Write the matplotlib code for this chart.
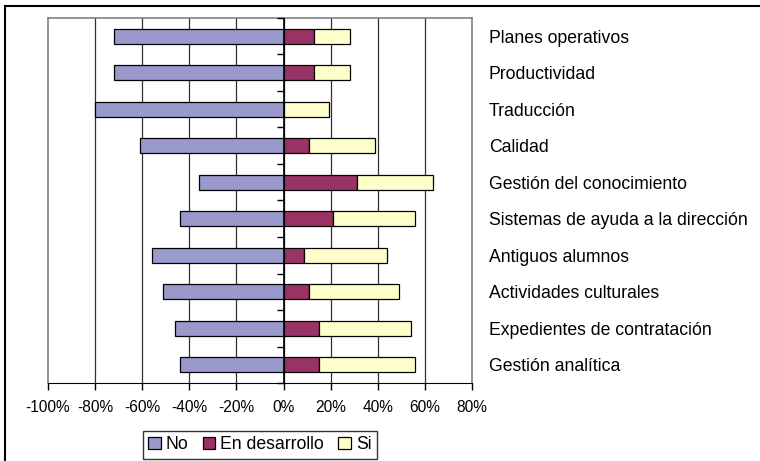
import matplotlib
matplotlib.use('Agg')
import matplotlib.pyplot as plt
import numpy as np
from matplotlib.patches import Rectangle

plt.rcParams['font.family'] = ['Liberation Sans', 'DejaVu Sans']

# data (percent)
categories = ['Planes operativos', 'Productividad', 'Traducción', 'Calidad',
              'Gestión del conocimiento', 'Sistemas de ayuda a la dirección',
              'Antiguos alumnos', 'Actividades culturales',
              'Expedientes de contratación', 'Gestión analítica']
no_vals = [-72, -72, -80, -61, -36, -44, -56, -51, -46, -44]
desarrollo_vals = [13, 13, 0, 11, 31, 21, 8.5, 11, 15, 15]
si_vals = [15, 15, 19.5, 28, 32.5, 35, 35.5, 38, 39, 41]
xticks = [-100, -80, -60, -40, -20, 0, 20, 40, 60, 80]

colors = ['#9999CC', '#993366', '#FFFFCC']

fig = plt.figure(figsize=(7.6, 4.61), dpi=100)
ax = fig.add_axes([48/760, 1-383/461, 424/760, 365/461])

y = np.arange(len(categories))
h = 0.4
ax.barh(y, no_vals, height=h, color=colors[0], edgecolor='black', lw=0.9, label='No', zorder=3)
ax.barh(y, desarrollo_vals, height=h, color=colors[1], edgecolor='black', lw=0.9,
        label='En desarrollo', zorder=3)
ax.barh(y, si_vals, left=desarrollo_vals, height=h, color=colors[2], edgecolor='black',
        lw=0.9, label='Si', zorder=3)

ax.set_xlim(-100, 80)
ax.set_ylim(len(categories) - 0.5, -0.5)
ax.set_xticks(xticks)
ax.set_xticklabels(['%d%%' % v for v in xticks], fontsize=11.2)
ax.tick_params(axis='x', length=5, width=1, pad=7, direction='out')
for v in xticks[1:-1]:
    ax.axvline(v, color='#303030', lw=0.9, zorder=1)
ax.axvline(0, color='black', lw=1.2, zorder=4)
# small tick marks on the value-0 axis between categories
ax.plot(np.zeros(len(categories) + 1), np.arange(len(categories) + 1) - 0.5,
        ls='none', marker=0, ms=5, mew=1, color='black', zorder=4, clip_on=False)

ax.yaxis.tick_right()
ax.set_yticks(y)
ax.set_yticklabels(categories, fontsize=12.7)
ax.tick_params(axis='y', length=0, pad=12)

for s in ['left', 'right', 'top']:
    ax.spines[s].set_color('#808080')
    ax.spines[s].set_linewidth(1.2)
ax.spines['bottom'].set_color('black')

# outer chart frame
fig.patches.append(Rectangle((5/760, -0.05), 1.0, 1 - 6/461 + 0.05,
                             transform=fig.transFigure, fill=False,
                             edgecolor='black', lw=1.5))

leg = fig.legend(loc='upper left', bbox_to_anchor=(143/760, 1 - 431/461), ncol=3,
                 fontsize=12.7, frameon=True, fancybox=False, edgecolor='black',
                 handlelength=0.7, handleheight=0.7, handletextpad=0.3,
                 columnspacing=0.8, borderpad=0.3, borderaxespad=0)
leg.get_frame().set_linewidth(1)

plt.savefig('out.png', dpi=100)
